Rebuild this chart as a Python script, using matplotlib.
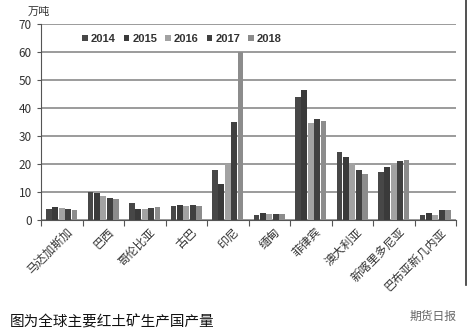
import numpy as np
import matplotlib
matplotlib.use('Agg')
import matplotlib.pyplot as plt
from matplotlib.lines import Line2D

plt.rcParams['font.family'] = ['Noto Sans CJK SC', 'DejaVu Sans']

countries = ['马达加斯加', '巴西', '哥伦比亚', '古巴', '印尼', '缅甸',
             '菲律宾', '澳大利亚', '新喀里多尼亚', '巴布亚新几内亚']
years = ['2014', '2015', '2016', '2017', '2018']
v2014 = [4.0, 10.0, 6.2, 5.0, 17.7, 1.8, 44.0, 24.3, 17.3, 1.8]
v2015 = [4.6, 9.7, 4.0, 5.2, 13.0, 2.5, 46.5, 22.5, 19.0, 2.5]
v2016 = [4.2, 8.6, 4.0, 5.0, 20.0, 2.2, 34.6, 20.5, 20.3, 1.8]
v2017 = [3.8, 7.7, 4.3, 5.3, 35.0, 2.2, 36.0, 17.7, 21.2, 3.5]
v2018 = [3.5, 7.4, 4.6, 5.0, 60.0, 2.2, 35.5, 16.5, 21.5, 3.5]
series = [v2014, v2015, v2016, v2017, v2018]
colors = ['#474747', '#3a3a3a', '#a2a2a2', '#404040', '#8c8c8c']

fig = plt.figure(figsize=(4.68, 3.36), dpi=100)
ax = fig.add_axes([41/468, 1 - 220/336, 415/468, 196/336])

x = np.arange(len(countries))
w = 0.155
for i, (vals, c) in enumerate(zip(series, colors)):
    ax.bar(x + (i - 2) * w, vals, w * 0.88, color=c, label=years[i], zorder=3)

ax.set_xlim(-0.5, len(countries) - 0.5)
ax.set_ylim(0, 70)
ax.set_yticks(range(0, 71, 10))
ax.yaxis.grid(True, color='#8a8a8a', linewidth=1.2, zorder=0)
for s in ['top', 'right']:
    ax.spines[s].set_visible(False)
ax.spines['left'].set_color('#555555')
ax.spines['bottom'].set_color('#555555')
ax.tick_params(axis='y', length=3, color='#555555', labelsize=8.5, labelcolor='#333333')
ax.set_xticks(np.arange(-0.5, len(countries), 1))
ax.set_xticklabels([])
ax.set_xticks(x + 0.1, minor=True)
ax.set_xticklabels(countries, minor=True, rotation=45, ha='right',
                   rotation_mode='anchor', fontsize=8.5, color='#333333')
ax.tick_params(axis='x', which='major', length=4, color='#555555')
ax.tick_params(axis='x', which='minor', length=0, pad=4)

leg = ax.legend(loc='upper left', bbox_to_anchor=(0.075, 1.0), ncol=5, frameon=False,
                handlelength=0.5, handleheight=0.5, handletextpad=0.3,
                columnspacing=0.7, prop={'family': 'Liberation Sans', 'size': 8, 'weight': 'bold'})
for t in leg.get_texts():
    t.set_color('#333333')

fig.text(28/468, 1 - 12/336, '万吨', fontsize=8, color='#333333', va='center')
fig.text(10/468, 1 - 322/336, '图为全球主要红土矿生产国产量', fontsize=10.5, color='#111111', va='center')
fig.text(410/468, 1 - 316/336, '期货日报', fontsize=8.5, color='#666666', va='center')
fig.add_artist(Line2D([466/468, 466/468], [1 - 285/336, 1.0], color='#333333', linewidth=1.2))

fig.savefig('out.png', dpi=100)
